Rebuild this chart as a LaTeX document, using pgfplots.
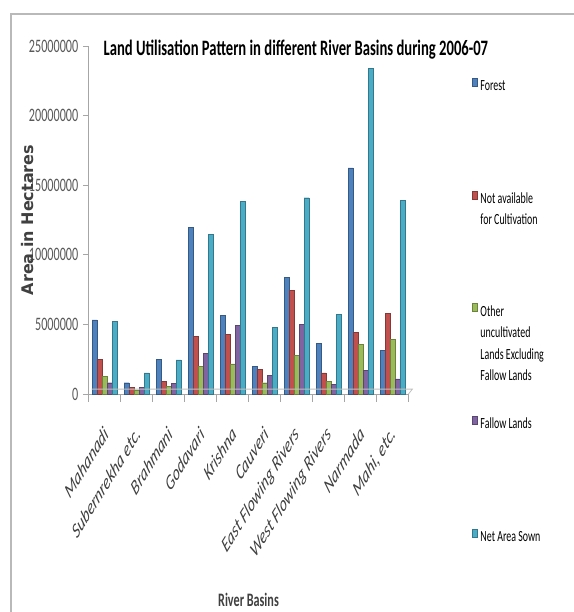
\documentclass[border=0pt]{standalone}
\usepackage{fontspec}
\setmainfont{Carlito}
\newfontfamily\labelfont{DejaVu Sans}
\usepackage{graphicx}
\usepackage{pgfplots}
\usepackage{pgfplotstable}
\pgfplotsset{compat=1.18}

\definecolor{cForest}{HTML}{4F81BD}
\definecolor{cNotAvail}{HTML}{C0504D}
\definecolor{cOther}{HTML}{9BBB59}
\definecolor{cFallow}{HTML}{8064A2}
\definecolor{cNet}{HTML}{4BACC6}
\definecolor{tickgray}{HTML}{595959}
\definecolor{labelgray}{HTML}{404040}
\definecolor{axisgray}{HTML}{A6A6A6}

% narrow (condensed) text helpers
\newcommand{\sq}[1]{\scalebox{0.64}[1]{#1}}
\newcommand{\tq}[1]{\scalebox{0.665}[1]{#1}}
\newcommand{\xl}[1]{\scalebox{0.62}[1]{\rotatebox{45}{#1}}}
\newcommand{\legtxt}[1]{\scalebox{0.64}[1]{\parbox[t]{110pt}{\raggedright\baselineskip=21.5pt #1}}}

% Land utilisation by river basin, hectares (2006-07)
\pgfplotstableread{
idx forest   notavail other   fallow  netsown
0   5330000  2500000  1290000 810000  5210000
1   810000   500000   290000  500000  1520000
2   2500000  930000   570000  790000  2450000
3   11950000 4140000  2000000 2930000 11450000
4   5640000  4290000  2160000 4930000 13850000
5   2000000  1790000  810000  1360000 4810000
6   8400000  7450000  2790000 4980000 14100000
7   3660000  1520000  930000  690000  5700000
8   16250000 4430000  3590000 1690000 23400000
9   3120000  5780000  3950000 1090000 13900000
}\landuse

\begin{document}
\begin{tikzpicture}
\path[use as bounding box] (0pt,0pt) rectangle (573pt,612pt);
\fill[white] (0pt,0pt) rectangle (573pt,612pt);
\draw[gray!55, line width=1.4pt] (11pt,-5pt) -- (11pt,598pt) -- (580pt,598pt);

\begin{axis}[
  at={(88.5pt,218pt)}, anchor=south west,
  scale only axis, width=320pt, height=348pt,
  xmin=-0.5, xmax=9.5, ymin=0, ymax=25000000,
  clip=false,
  ybar=0pt, bar width=5pt,
  axis x line*=bottom, axis y line*=left,
  axis line style={axisgray, line width=0.9pt},
  tick align=outside,
  major tick length=5pt,
  minor tick length=8pt,
  every tick/.style={axisgray, line width=0.8pt},
  xtick={0,...,9},
  major x tick style={draw=none},
  minor xtick={-0.5,0.5,...,9.5},
  xticklabels={\xl{Mahanadi},\xl{Subernrekha etc.},\xl{Brahmani},\xl{Godavari},\xl{Krishna},\xl{Cauveri},\xl{East Flowing Rivers},\xl{West Flowing Rivers},\xl{Narmada},\xl{Mahi, etc.}},
  xticklabel style={font=\fontsize{21.5pt}{24pt}\selectfont\itshape, text=labelgray,
    anchor=north east, inner sep=0pt, xshift=5pt, yshift=-26pt},
  scaled y ticks=false,
  ytick={0,5000000,10000000,15000000,20000000,25000000},
  yticklabels={\sq{0},\sq{5000000},\sq{10000000},\sq{15000000},\sq{20000000},\sq{25000000}},
  yticklabel style={font=\fontsize{19pt}{22pt}\selectfont, text=tickgray,
    anchor=east, inner sep=0pt, xshift=-5pt},
  title={\tq{Land Utilisation Pattern in different River Basins during 2006-07}},
  title style={at={(axis description cs:0.648,0.971)}, anchor=center,
    font=\fontsize{22pt}{26pt}\selectfont\bfseries, text=black},
  xlabel={\sq{River Basins}},
  xlabel style={at={(axis description cs:0.5,-0.592)}, anchor=center,
    font=\fontsize{19pt}{22pt}\selectfont\bfseries, text=labelgray},
  ylabel={Area in Hectares},
  ylabel style={at={(axis description cs:-0.192,0.5)}, anchor=center, rotate=0,
    font=\labelfont\bfseries\fontsize{16pt}{19pt}\selectfont, text=labelgray},
  legend style={at={(axis description cs:1.198,0.908)}, anchor=north west,
    draw=none, fill=none, inner sep=0pt, row sep=98.4pt, column sep=3.5pt,
    font=\fontsize{15.5pt}{21.5pt}\selectfont, text=black,
    cells={anchor=base west}, nodes={inner sep=0pt}},
  legend cell align=left,
  legend image code/.code={\fill[#1] (0pt,0pt) rectangle (4.5pt,8pt);},
]
\addplot[fill=cForest, draw=cForest!70!black, line width=0.4pt] table[x=idx,y=forest]{\landuse};
\addplot[fill=cNotAvail, draw=cNotAvail!70!black, line width=0.4pt] table[x=idx,y=notavail]{\landuse};
\addplot[fill=cOther, draw=cOther!70!black, line width=0.4pt] table[x=idx,y=other]{\landuse};
\addplot[fill=cFallow, draw=cFallow!70!black, line width=0.4pt] table[x=idx,y=fallow]{\landuse};
\addplot[fill=cNet, draw=cNet!70!black, line width=0.4pt] table[x=idx,y=netsown]{\landuse};
\legend{\legtxt{Forest},
        \legtxt{Not available\\for Cultivation},
        \legtxt{Other\\uncultivated\\Lands Excluding\\Fallow Lands},
        \legtxt{Fallow Lands},
        \legtxt{Net Area Sown}}
% back edge of the chart floor
\draw[axisgray!70, line width=0.8pt] (axis description cs:0.01,0.014) -- (axis description cs:1.012,0.014) -- (axis description cs:1,0);
\end{axis}
\end{tikzpicture}
\end{document}
